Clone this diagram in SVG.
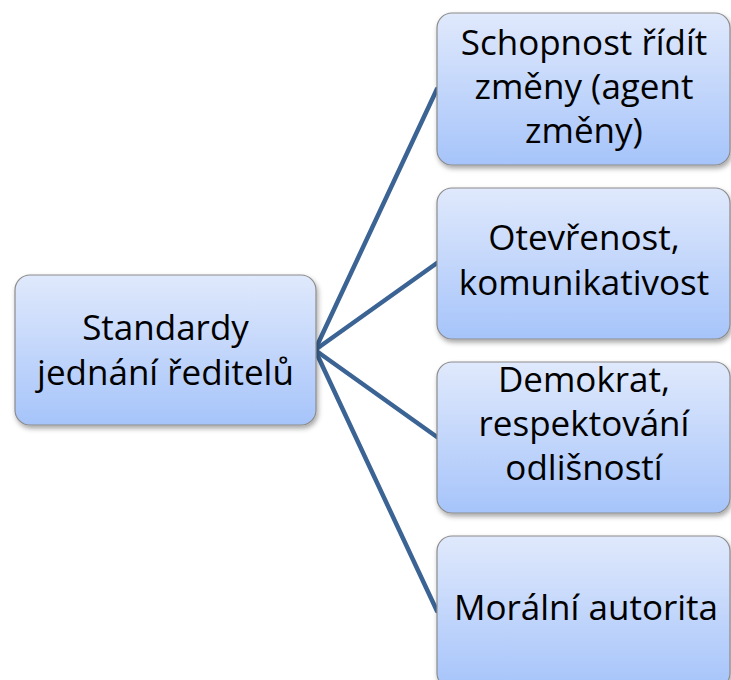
<svg xmlns="http://www.w3.org/2000/svg" width="731" height="680" viewBox="0 0 731 680">
  <defs>
    <linearGradient id="boxFill" x1="0" y1="0" x2="0" y2="1">
      <stop offset="0" stop-color="#e0e9fc"/>
      <stop offset="1" stop-color="#a6c4fa"/>
    </linearGradient>
    <filter id="shadow" x="-10%" y="-10%" width="125%" height="130%">
      <feDropShadow dx="1.5" dy="3" stdDeviation="2.5" flood-color="#000" flood-opacity="0.35"/>
    </filter>
    <style>
      .box { fill: url(#boxFill); stroke: #8c8c8c; stroke-width: 1.2; filter: url(#shadow); }
      .label { font-family: "Open Sans", "Noto Sans", sans-serif; font-size: 35px; fill: #000; text-anchor: middle; }
      .link { stroke: #3b6494; stroke-width: 4.5; fill: none; stroke-linecap: round; }
    </style>
  </defs>

  <rect width="731" height="680" fill="#ffffff"/>

  <!-- connectors from the root to each child -->
  <g id="connectors">
    <line class="link" x1="315" y1="350" x2="437" y2="89"/>
    <line class="link" x1="315" y1="350" x2="437" y2="263"/>
    <line class="link" x1="315" y1="350" x2="437" y2="437"/>
    <line class="link" x1="315" y1="350" x2="437" y2="611"/>
  </g>

  <!-- root node -->
  <g id="node-root">
    <rect class="box" x="15" y="275" width="301" height="150" rx="15"/>
    <text class="label" x="165.5" y="340">Standardy</text>
    <text class="label" x="165.5" y="385">jednání ředitelů</text>
  </g>

  <!-- child nodes -->
  <g id="node-change">
    <rect class="box" x="437" y="13" width="293" height="152" rx="15"/>
    <text class="label" x="584" y="55">Schopnost řídít</text>
    <text class="label" x="584" y="99">změny (agent</text>
    <text class="label" x="584" y="143">změny)</text>
  </g>

  <g id="node-openness">
    <rect class="box" x="437" y="188" width="293" height="151" rx="15"/>
    <text class="label" x="584" y="250">Otevřenost,</text>
    <text class="label" x="584" y="295">komunikativost</text>
  </g>

  <g id="node-democrat">
    <rect class="box" x="437" y="362" width="293" height="151" rx="15"/>
    <text class="label" x="584" y="392">Demokrat,</text>
    <text class="label" x="584" y="436">respektování</text>
    <text class="label" x="584" y="480">odlišností</text>
  </g>

  <g id="node-moral">
    <rect class="box" x="437" y="536" width="293" height="152" rx="15"/>
    <text class="label" x="586" y="620">Morální autorita</text>
  </g>
</svg>
